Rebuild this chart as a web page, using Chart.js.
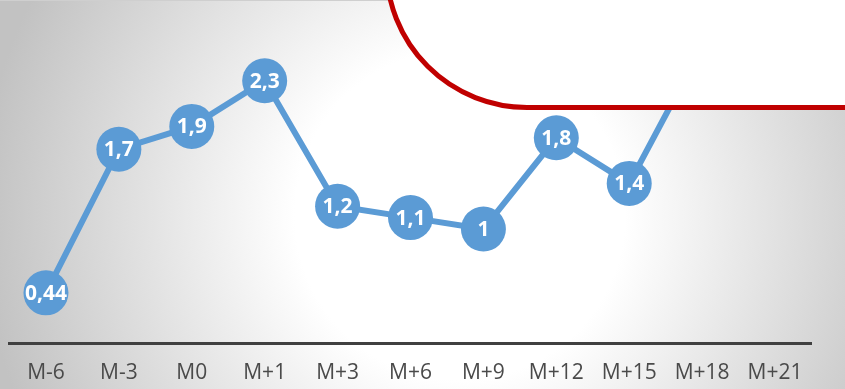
<!DOCTYPE html>
<html>
<head>
<meta charset="utf-8">
<script src="https://cdn.jsdelivr.net/npm/chart.js@4/dist/chart.umd.min.js"></script>
<style>
    html, body { margin: 0; padding: 0; }
    #wrap {
        position: relative; width: 845px; height: 389px; overflow: hidden;
        background: radial-gradient(circle at 460px 215px, #ffffff 0px, #ffffff 165px, #c2c2c2 480px);
    }
    #wrap::before {
        content: ''; position: absolute; left: 0; top: 0; width: 100%; height: 1px; background: #cfcfcf;
    }
    #chart { position: absolute; left: 0; top: 0; }
    /* callout shape laid over the chart */
    #bubble {
        position: absolute; left: 384px; top: -290px; width: 700px; height: 400px;
        box-sizing: border-box; background: #fff;
        border: 5px solid #c00000; border-radius: 143px;
    }
</style>
</head>
<body>
<div id="wrap">
    <canvas id="chart" width="845" height="389"></canvas>
    <div id="bubble"></div>
</div>
<script>
const months = ['M-6', 'M-3', 'M0', 'M+1', 'M+3', 'M+6', 'M+9', 'M+12', 'M+15', 'M+18', 'M+21'];
const values = [0.44, 1.7, 1.9, 2.3, 1.2, 1.1, 1, 1.8, 1.4, 2.6, 2.8];
const yMin = 0;
const yMax = 3;

const BLUE = '#5b9bd5';
const FONT = "'Open Sans', 'Liberation Sans', sans-serif";

// white value labels inside the markers
const valueLabels = {
    id: 'valueLabels',
    afterDatasetsDraw(chart) {
        const ctx = chart.ctx;
        const meta = chart.getDatasetMeta(0);
        ctx.save();
        ctx.fillStyle = '#ffffff';
        ctx.font = 'bold 21px ' + FONT;
        ctx.textAlign = 'center';
        ctx.textBaseline = 'middle';
        meta.data.forEach((pt, i) => {
            const txt = String(values[i]).replace('.', ',');
            ctx.fillText(txt, pt.x, pt.y + 1);
        });
        ctx.restore();
    }
};

new Chart(document.getElementById('chart').getContext('2d'), {
    type: 'line',
    data: {
        labels: months,
        datasets: [{
            data: values,
            borderColor: BLUE,
            backgroundColor: BLUE,
            borderWidth: 6,
            pointRadius: 22.5,
            pointHoverRadius: 22.5,
            pointBorderWidth: 0,
            pointBackgroundColor: BLUE,
            tension: 0,
            clip: false
        }]
    },
    options: {
        responsive: false,
        animation: false,
        layout: { autoPadding: false, padding: { left: 9.5, right: 33.5, top: 1, bottom: 0 } },
        plugins: { legend: { display: false }, tooltip: { enabled: false } },
        scales: {
            x: {
                offset: true,
                grid: { display: false, drawTicks: false },
                border: { display: true, color: '#404040', width: 3 },
                ticks: {
                    color: '#4a4a4a', font: { family: FONT, size: 21 },
                    padding: 17, autoSkip: false, maxRotation: 0
                },
                afterFit: (s) => { s.height = 46; s.paddingLeft = 0; s.paddingRight = 0; }
            },
            y: { display: false, min: yMin, max: yMax }
        }
    },
    plugins: [valueLabels]
});
</script>
</body>
</html>
